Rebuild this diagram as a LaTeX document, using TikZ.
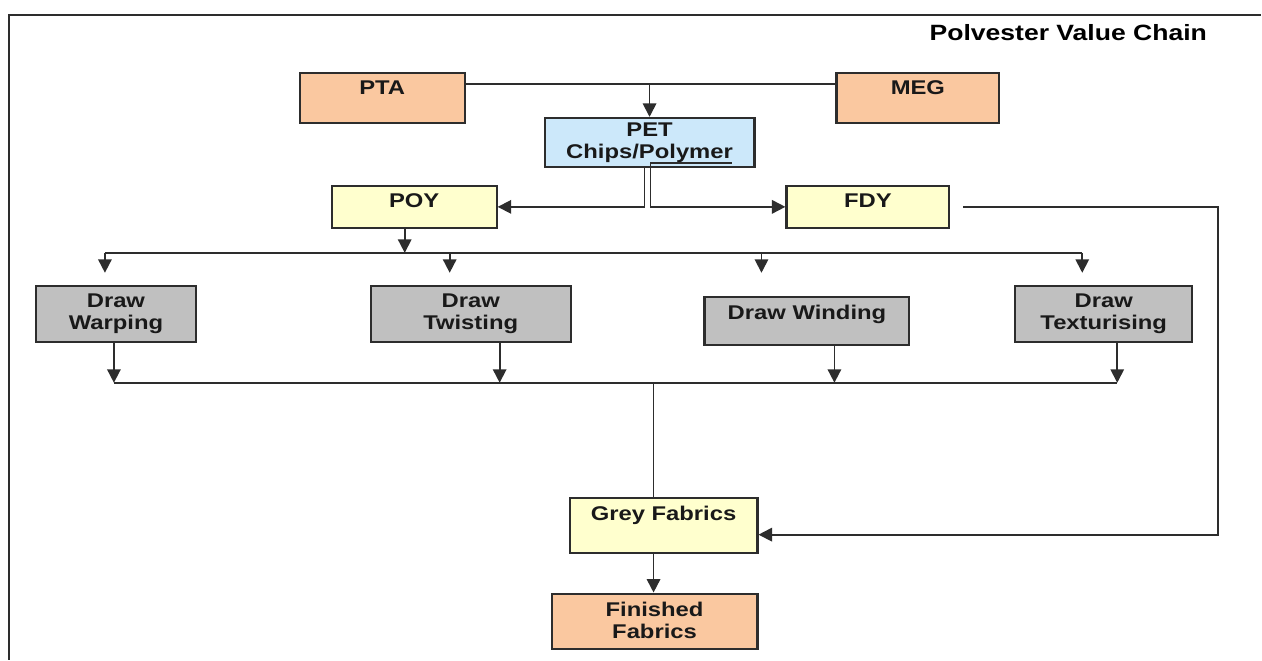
\documentclass[tikz,border=0pt]{standalone}
\usepackage{fontspec}
\setmainfont{Liberation Sans}[FakeStretch=1.2]
\usetikzlibrary{arrows.meta,positioning,calc}
\definecolor{peche}{RGB}{250,200,160}
\definecolor{bleuclair}{RGB}{204,232,250}
\definecolor{jaune}{RGB}{255,255,206}
\definecolor{grisbox}{RGB}{192,192,192}
\definecolor{trait}{RGB}{45,45,45}
\newcommand{\boxfont}{\bfseries\fontsize{11.3}{12.5}\selectfont}

\tikzset{
  box/.style={draw=trait,line width=1.2pt,inner sep=0pt},
  boxlabel/.style={anchor=north,align=center,font=\boxfont,inner sep=5pt,text=black!90},
  link/.style={draw=trait,line width=1pt},
  arr/.style={link,-{Triangle[length=0.27cm,width=0.27cm]}}
}

\begin{document}
\begin{tikzpicture}[x=0.02cm,y=-0.02cm]
					%% fond et cadre
					\fill[white] (0,0) rectangle (1262,660);
					\draw[trait,line width=1pt] (9,660) -- (9,15) -- (1262,15);
					\node[font=\bfseries\fontsize{12.6}{14}\selectfont] (titre) at (1069,33) {Polvester Value Chain};
					
					%% matieres premieres
					\node[box,fill=peche,minimum width=3.3cm,minimum height=1cm,
					label={[boxlabel]north:PTA}] (pta) at (382.5,98) {};
					\node[box,fill=peche,minimum width=3.26cm,minimum height=1cm,
					label={[boxlabel]north:MEG}] (meg) at (918.5,98) {};
					\node[box,fill=bleuclair,minimum width=4.2cm,minimum height=0.98cm,
					label={[boxlabel,inner sep=3pt]north:{PET\\Chips/Polymer}}] (pet) at (650,142.5) {};
					
					%% fils
					\node[box,fill=jaune,minimum width=3.3cm,minimum height=0.84cm,
					label={[boxlabel]north:POY}] (poy) at (414.5,207) {};
					\node[box,fill=jaune,minimum width=3.26cm,minimum height=0.84cm,
					label={[boxlabel]north:FDY}] (fdy) at (868.5,207) {};
					
					%% transformations
					\node[box,fill=grisbox,minimum width=3.2cm,minimum height=1.12cm,
					label={[boxlabel]north:{Draw\\Warping}}] (warp) at (116,314) {};
					\node[box,fill=grisbox,minimum width=4cm,minimum height=1.12cm,
					label={[boxlabel]north:{Draw\\Twisting}}] (twist) at (471,314) {};
					\node[box,fill=grisbox,minimum width=4.1cm,minimum height=0.96cm,
					label={[boxlabel]north:{Draw Winding}}] (wind) at (807.5,321) {};
					\node[box,fill=grisbox,minimum width=3.54cm,minimum height=1.12cm,
					label={[boxlabel]north:{Draw\\Texturising}}] (tex) at (1104.5,314) {};
					
					%% tissus
					\node[box,fill=jaune,minimum width=3.76cm,minimum height=1.1cm,
					label={[boxlabel]north:{Grey Fabrics}}] (grey) at (664,525.5) {};
					\node[box,fill=peche,minimum width=4.12cm,minimum height=1.1cm,
					label={[boxlabel]north:{Finished\\Fabrics}}] (fin) at (655,621.5) {};
					
					%% PTA + MEG -> PET
					\coordinate (jonction) at (650,84);
					\draw[link] (jonction -| pta.east) -- (jonction -| meg.west);
					\draw[arr] (jonction) -- (jonction |- pet.north);
					
					%% PET -> POY / FDY
					\coordinate (versfdy) at (732,163);
					\draw[arr] (645,0 |- pet.south) |- (poy.east);
					\draw[arr] (versfdy) -| (651,207) -- (fdy.west);
					
					%% POY -> transformations
					\coordinate (bushaut) at (405,253);
					\draw[arr] (bushaut |- poy.south) -- (bushaut);
					\draw[link] (105,253) -- (1083,253);
					\foreach \n/\x/\g in {warp/105/0.24cm,twist/450/0.24cm,wind/762/0.46cm,tex/1083/0.24cm}
					\draw[arr,shorten >=\g] (\x,253) -- (\x,0 |- \n.north);
					
					%% transformations -> Grey Fabrics
					\coordinate (busbas) at (654,383);
					\foreach \n/\x in {warp/114,twist/500,wind/835,tex/1118}
					\draw[arr] (\x,0 |- \n.south) -- (\x,383);
					\draw[link] (114,383) -- (1118,383);
					\draw[link] (busbas) -- (busbas |- grey.north);
					\draw[arr] (busbas |- grey.south) -- (busbas |- fin.north);
					
					%% FDY -> Grey Fabrics
					\coordinate (retour) at (1219,535);
					\draw[arr] ([xshift=0.26cm]fdy.east) -| (retour) -- (retour -| grey.east);
				\end{tikzpicture}
\end{document}
